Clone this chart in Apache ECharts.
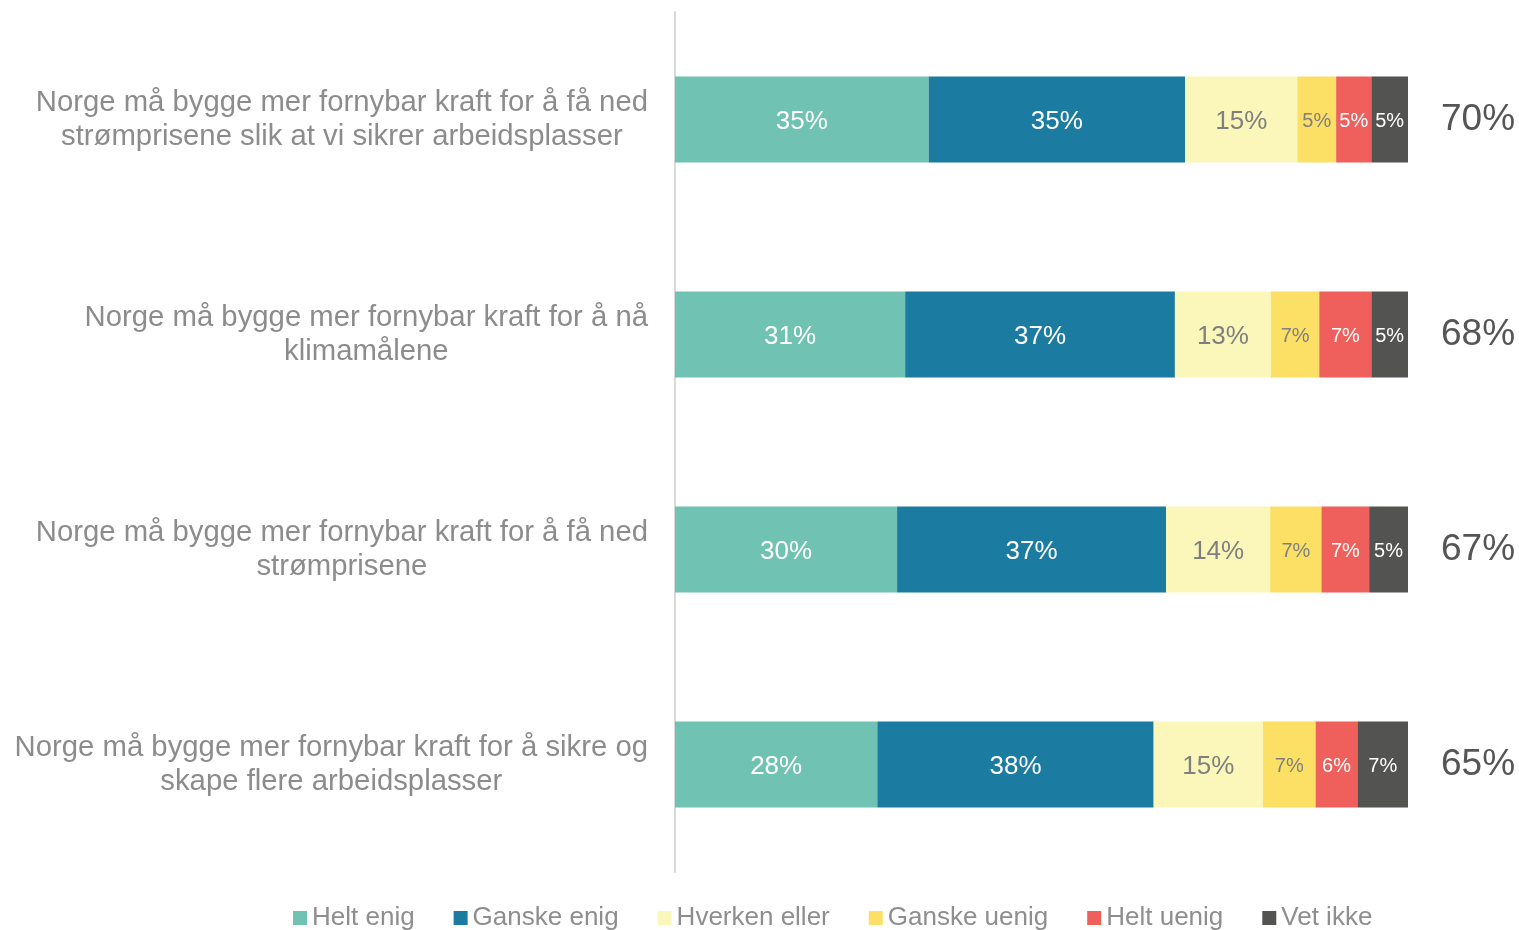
<!DOCTYPE html>
<html><head><meta charset="utf-8">
<script src="https://cdn.jsdelivr.net/npm/echarts@6/dist/echarts.min.js"></script>
<style>html,body{margin:0;padding:0;background:#fff}#c{width:1519px;height:930px}</style>
</head><body><div id="c"></div>
<script>
const categories = [
  "Norge må bygge mer fornybar kraft for å få ned\nstrømprisene slik at vi sikrer arbeidsplasser",
  "Norge må bygge mer fornybar kraft for å nå\nklimamålene",
  "Norge må bygge mer fornybar kraft for å få ned\nstrømprisene",
  "Norge må bygge mer fornybar kraft for å sikre og\nskape flere arbeidsplasser"
];
const totals = ["70%", "68%", "67%", "65%"];
const seriesNames = ["Helt enig", "Ganske enig", "Hverken eller", "Ganske uenig", "Helt uenig", "Vet ikke"];
const heltEnig = [34.6, 31.4, 30.3, 27.6];
const ganskeEnig = [35.0, 36.8, 36.7, 37.7];
const hverkenEller = [15.3, 13.1, 14.2, 14.9];
const ganskeUenig = [5.3, 6.6, 7.0, 7.2];
const heltUenig = [4.8, 7.1, 6.5, 5.7];
const vetIkke = [5.0, 5.0, 5.3, 6.9];

const values = [heltEnig, ganskeEnig, hverkenEller, ganskeUenig, heltUenig, vetIkke];
const colors = ["#70C3B2", "#1C7BA1", "#FBF7BA", "#FCE066", "#EF5F5B", "#535351"];
const labelColors = ["#fff", "#fff", "#7f7f7f", "#7f7f7f", "#fff", "#fff"];
const FF = 'Liberation Sans, Arial, sans-serif';

const chart = echarts.init(document.getElementById('c'));
chart.setOption({
  animation: false,
  backgroundColor: '#fff',
  textStyle: { fontFamily: FF },
  grid: { left: 675, right: 111, top: 12, bottom: 58, containLabel: false },
  legend: {
    data: seriesNames,
    left: 288, top: 900,
    itemWidth: 14, itemHeight: 14, itemGap: 39,
    icon: 'rect',
    textStyle: { fontSize: 26, color: '#8e8e8e', fontFamily: FF }
  },
  xAxis: { type: 'value', min: 0, max: 100, show: false },
  yAxis: [{
    type: 'category', data: categories, inverse: true,
    axisLine: { show: true, lineStyle: { color: '#d9d9d9', width: 2 } },
    axisTick: { show: false },
    axisLabel: {
      margin: 27, align: 'right',
      formatter: v => v.split('\n').map(s => '{c|' + s + '}').join('\n'),
      rich: { c: { align: 'center', fontSize: 29.3, color: '#8c8c8c', lineHeight: 34, fontFamily: FF } }
    }
  }, {
    type: 'category', data: totals, inverse: true, position: 'right',
    axisLine: { show: false }, axisTick: { show: false },
    axisLabel: { margin: 33, align: 'left', fontSize: 37, color: '#555', fontFamily: FF, padding: [4, 0, 0, 0] }
  }],
  series: values.map((vals, i) => ({
    name: seriesNames[i], type: 'bar', stack: 'all', yAxisIndex: 0,
    barWidth: 86,
    itemStyle: { color: colors[i] },
    label: {
      show: true, position: 'inside',
      formatter: p => Math.round(p.value) + '%',
      color: labelColors[i],
      fontFamily: FF,
      fontSize: 26,
      offset: [0, 2]
    },
    data: vals.map(v => ({ value: v, label: { fontSize: v < 10 ? 20 : 26 } }))
  }))
});
</script></body></html>
